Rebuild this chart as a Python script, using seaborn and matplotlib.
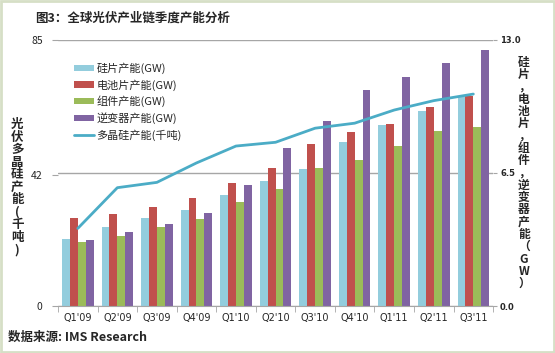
# 全球光伏产业链季度产能分析 - grouped bars + line on twin axes
import numpy as np
import pandas as pd
import seaborn as sns
import matplotlib.pyplot as plt
from matplotlib.patches import Patch, Rectangle
from matplotlib.lines import Line2D

quarters = ["Q1'09", "Q2'09", "Q3'09", "Q4'09", "Q1'10", "Q2'10",
            "Q3'10", "Q4'10", "Q1'11", "Q2'11", "Q3'11"]
wafer = [3.26, 3.88, 4.32, 4.71, 5.41, 6.11, 6.71, 8.03, 8.83, 9.53, 10.23]
cell = [4.29, 4.51, 4.85, 5.26, 6.00, 6.74, 7.93, 8.50, 8.91, 9.71, 10.25]
module = [3.14, 3.42, 3.85, 4.25, 5.10, 5.73, 6.74, 7.15, 7.82, 8.54, 8.75]
inverter = [3.23, 3.60, 3.99, 4.55, 5.91, 7.74, 9.04, 10.54, 11.19, 11.86, 12.51]
polysilicon = [24.8, 37.8, 39.5, 45.7, 51.1, 52.3, 56.8, 58.4, 62.6, 65.6, 67.7]

series_names = ["硅片产能(GW)", "电池片产能(GW)", "组件产能(GW)", "逆变器产能(GW)"]
line_name = "多晶硅产能(千吨)"
colors = ["#93CDDD", "#C0504D", "#9BBB59", "#8064A2"]
line_color = "#4BACC6"

df = pd.DataFrame({
    "quarter": quarters * 4,
    "series": np.repeat(series_names, len(quarters)),
    "value": wafer + cell + module + inverter,
})

sns.set_style("white")
plt.rcParams["font.family"] = ["Noto Sans CJK SC", "DejaVu Sans"]

fig = plt.figure(figsize=(5.55, 3.53), dpi=100)
fig.patch.set_facecolor("white")
fig.patches.append(Rectangle((0.002, 0.003), 0.996, 0.994, transform=fig.transFigure,
                             fill=False, edgecolor="#d6dfc6", linewidth=2))

ax = fig.add_axes([0.1045, 0.133, 0.784, 0.754])
sns.barplot(data=df, x="quarter", y="value", hue="series", hue_order=series_names,
            palette=colors, width=0.8, linewidth=0, saturation=1, ax=ax, legend=False)

# polysilicon line on the left scale (twinx resets ax ticks to the left)
ax2 = ax.twinx()
ax2.plot(range(len(quarters)), polysilicon, color=line_color, linewidth=2)
ax2.set_ylim(0, 85)
ax2.set_yticks([0, 42, 85])
ax2.yaxis.tick_left()
ax2.tick_params(axis="y", left=True, right=False, labelleft=True, labelright=False,
                length=4, color="#a6a6a6", labelsize=7.5, pad=7)
for s in ax2.spines.values():
    s.set_visible(False)

# bars use the right-hand GW scale
ax.set_ylim(0, 13)
ax.set_yticks([0, 6.5, 13])
ax.set_yticklabels(["0.0", "6.5", "13.0"], fontsize=6, fontweight="bold", family="DejaVu Sans")
ax.yaxis.tick_right()
ax.tick_params(axis="y", left=False, right=True, labelleft=False, labelright=True,
               length=3, color="#a6a6a6", pad=2)
ax.set_xlim(-0.5, len(quarters) - 0.5)
ax.set_xlabel("")
ax.set_ylabel("")
ax.set_axisbelow(True)
ax.yaxis.grid(True, color="#a6a6a6", linewidth=1)
ax.tick_params(axis="x", length=0, labelsize=7, pad=5)
for lab in ax.get_xticklabels():
    lab.set_family("DejaVu Sans")
ax.set_xticks(np.arange(-0.5, len(quarters), 1), minor=True)
ax.tick_params(axis="x", which="minor", bottom=True, length=4, color="#a6a6a6")
for s in ["top", "left", "right"]:
    ax.spines[s].set_visible(False)
ax.spines["bottom"].set_color("#a6a6a6")

handles = [Patch(facecolor=c, edgecolor="none") for c in colors]
handles.append(Line2D([0], [0], color=line_color, linewidth=2))
ax2.legend(handles, series_names + [line_name], loc="upper left",
           bbox_to_anchor=(0.025, 0.935), frameon=False, fontsize=8,
           handlelength=1.8, handleheight=0.5, handletextpad=0.2,
           labelspacing=0.45, borderpad=0)

fig.text(0.063, 0.949, "图3：全球光伏产业链季度产能分析", fontsize=9,
         fontweight="bold", va="center", ha="left")
fig.text(0.014, 0.043, "数据来源: IMS Research", fontsize=9,
         fontweight="bold", va="center", ha="left")
fig.text(0.031, 0.47, "\n".join("光伏多晶硅产能(千吨)"), fontsize=9,
         fontweight="bold", va="center", ha="center", linespacing=0.95)
fig.text(0.944, 0.51, "\n".join("硅片，电池片，组件，逆变器产能（GW）"), fontsize=8.5,
         fontweight="bold", va="center", ha="center", linespacing=0.93)

fig.savefig("out.png", dpi=100, facecolor=fig.get_facecolor())
